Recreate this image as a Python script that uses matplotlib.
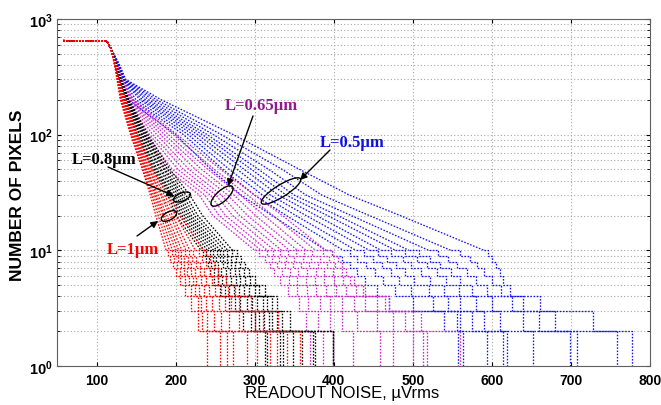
import matplotlib
matplotlib.use("Agg")
import matplotlib.pyplot as plt
from matplotlib.patches import Ellipse
from matplotlib.transforms import IdentityTransform

plt.rcParams['mathtext.fontset'] = 'custom'
plt.rcParams['mathtext.bf'] = 'Liberation Sans:bold'
plt.rcParams['mathtext.rm'] = 'Liberation Sans'

# ---------------- data ----------------
# common start of every curve (plateau and knee)
head_x = [58, 113, 118]
head_counts = [650, 645, 560]
# count levels reached at each x listed in the tables
mid_levels = [400, 300, 200, 100, 50, 30, 20, 10]
tail_levels = [10, 9, 8, 7, 6, 5, 4, 3, 2, 1]

# columns: x@400, x@300, x@200, x@100, x@50, x@30, x@20, x@10,
#          x@9, x@8, x@7, x@6, x@5, x@4, x@3, x@2, x@1
red_L1um = [
    [123, 126, 130, 143, 158, 168, 175, 188, 190, 193, 197, 200, 205, 212, 220, 228, 240],
    [123, 126, 131, 144, 159, 170, 178, 192, 195, 198, 202, 206, 212, 219, 228, 233, 256],
    [123, 127, 131, 145, 161, 172, 181, 196, 199, 203, 207, 211, 217, 225, 232, 240, 273],
    [123, 127, 132, 146, 162, 174, 184, 200, 203, 207, 211, 215, 222, 230, 238, 248, 265],
    [124, 127, 133, 147, 163, 176, 186, 204, 207, 211, 216, 220, 226, 236, 246, 258, 290],
    [124, 127, 133, 148, 164, 178, 189, 208, 212, 216, 220, 225, 232, 242, 255, 268, 303],
    [124, 128, 134, 149, 166, 181, 193, 213, 217, 221, 226, 231, 239, 250, 262, 280, 328],
    [124, 128, 135, 150, 167, 183, 196, 218, 222, 226, 231, 236, 246, 258, 270, 300, 341],
    [124, 128, 136, 151, 169, 186, 200, 225, 229, 233, 238, 244, 254, 266, 280, 310, 320],
    [124, 129, 137, 152, 171, 190, 206, 235, 239, 243, 248, 254, 264, 275, 295, 330, 357],
]
black_L08um = [
    [124, 128, 134, 151, 171, 190, 201, 232, 235, 238, 241, 244, 248, 256, 268, 285, 313],
    [124, 128, 135, 152, 173, 193, 205, 236, 239, 242, 245, 249, 254, 262, 275, 295, 316],
    [124, 129, 136, 154, 175, 195, 208, 240, 243, 247, 250, 254, 259, 268, 282, 300, 332],
    [124, 129, 136, 155, 177, 197, 211, 244, 247, 251, 254, 258, 264, 274, 290, 305, 336],
    [125, 129, 137, 157, 180, 200, 214, 248, 252, 256, 260, 264, 270, 280, 297, 312, 349],
    [125, 130, 138, 158, 182, 203, 217, 252, 256, 260, 265, 269, 276, 287, 303, 318, 374],
    [125, 130, 138, 160, 185, 206, 220, 256, 260, 265, 270, 275, 282, 293, 310, 322, 376],
    [125, 130, 139, 161, 187, 209, 224, 261, 265, 270, 275, 280, 288, 300, 316, 328, 399],
    [125, 131, 140, 163, 190, 213, 228, 266, 271, 276, 281, 286, 294, 306, 322, 335, 360],
    [125, 131, 141, 165, 193, 218, 234, 272, 278, 283, 288, 293, 300, 313, 328, 345, 399],
]
magenta_L065um = [
    [125, 129, 138, 160, 190, 230, 247, 300, 306, 313, 319, 325, 332, 342, 356, 365, 370],
    [125, 129, 139, 163, 196, 237, 255, 308, 315, 322, 328, 335, 343, 354, 368, 380, 386],
    [125, 130, 140, 167, 203, 244, 263, 316, 323, 331, 338, 345, 354, 366, 382, 395, 399],
    [125, 130, 141, 171, 210, 251, 272, 325, 332, 340, 348, 355, 365, 378, 395, 410, 424],
    [126, 130, 142, 176, 217, 258, 281, 334, 342, 350, 358, 366, 376, 390, 410, 430, 458],
    [126, 131, 143, 181, 225, 266, 291, 344, 352, 361, 369, 377, 388, 403, 425, 455, 475],
    [126, 131, 144, 186, 233, 274, 301, 354, 362, 371, 380, 388, 400, 416, 440, 475, 500],
    [126, 131, 145, 191, 241, 282, 312, 365, 373, 382, 391, 399, 412, 428, 455, 490, 513],
    [126, 132, 146, 197, 249, 291, 323, 377, 386, 394, 402, 410, 420, 437, 465, 500, 518],
    [126, 132, 147, 202, 257, 300, 335, 390, 398, 405, 410, 415, 425, 440, 470, 510, 560],
]
blue_L05um = [
    [126, 131, 140, 200, 245, 283, 322, 390, 398, 410, 420, 430, 440, 455, 470, 540, 557],
    [126, 132, 146, 210, 260, 300, 340, 412, 420, 430, 441, 452, 462, 478, 500, 556, 563],
    [127, 133, 150, 216, 268, 310, 352, 428, 438, 450, 461, 472, 482, 498, 525, 560, 594],
    [127, 133, 155, 222, 278, 320, 365, 445, 456, 468, 479, 490, 502, 520, 545, 575, 614],
    [127, 134, 158, 228, 287, 330, 378, 460, 472, 487, 498, 510, 522, 540, 560, 590, 619],
    [128, 134, 162, 234, 296, 340, 392, 478, 490, 505, 518, 530, 542, 558, 580, 610, 652],
    [128, 135, 166, 240, 305, 350, 405, 495, 508, 522, 535, 548, 560, 575, 600, 640, 699],
    [128, 135, 171, 248, 318, 365, 422, 520, 532, 545, 556, 568, 580, 594, 625, 660, 708],
    [129, 136, 176, 258, 335, 385, 445, 548, 560, 572, 581, 590, 600, 612, 640, 680, 758],
    [129, 137, 182, 273, 357, 420, 484, 590, 595, 600, 605, 610, 614, 623, 661, 728, 777],
]

x_ticks = [100, 200, 300, 400, 500, 600, 700, 800]
y_ticks = [1, 10, 100, 1000]
y_tick_labels = [r'$\mathbf{10^{0}}$', r'$\mathbf{10^{1}}$', r'$\mathbf{10^{2}}$', r'$\mathbf{10^{3}}$']

families = [
    (blue_L05um, '#1414f0'),
    (magenta_L065um, '#c828c8'),
    (black_L08um, '#000000'),
    (red_L1um, '#ff0000'),
]

# ---------------- figure ----------------
W, H = 661, 406
fig = plt.figure(figsize=(W / 100, H / 100), dpi=100)
ax = fig.add_axes([57 / W, (H - 367) / H, (650 - 57) / W, (367 - 20) / H])
ax.set_yscale('log')
ax.set_xlim(50, 800)
ax.set_ylim(1, 1000)

ls = (0, (1.2, 1.2))
n_mid = len(mid_levels)
for table, col in families:
    for row in table:
        mid_x = row[:n_mid]
        tail_x = row[n_mid - 1:]
        ax.plot(head_x + mid_x, head_counts + mid_levels,
                color=col, lw=0.95, ls=ls)
        ax.step(tail_x, tail_levels, where='post', color=col, lw=0.95, ls=ls)

ax.set_xticks(x_ticks)
ax.set_xticklabels([str(t) for t in x_ticks], fontfamily='Liberation Sans',
                   fontweight='bold', fontsize=10)
ax.set_yticks(y_ticks)
ax.set_yticklabels(y_tick_labels, fontsize=10.5)
ax.tick_params(which='both', direction='in', top=True, right=True, length=3)
ax.tick_params(which='minor', length=2)
ax.tick_params(axis='x', pad=5)
ax.tick_params(axis='y', pad=3)
ax.grid(True, which='major', color='#a8a8a8', ls=(0, (1, 2)), lw=0.8)
ax.grid(True, which='minor', axis='y', color='#a8a8a8', ls=(0, (1, 2)), lw=0.8)
for sp in ax.spines.values():
    sp.set_color('#606060')
    sp.set_linewidth(0.8)

ax.set_xlabel('READOUT NOISE, µVrms', fontfamily='Liberation Sans', fontsize=12)
ax.xaxis.set_label_coords((342 - 57) / 593, (367 - 394) / 347)
ax.xaxis.label.set_va('center')
ax.set_ylabel('NUMBER OF PIXELS', fontfamily='Liberation Sans',
              fontweight='bold', fontsize=12.5)
ax.yaxis.set_label_coords((18 - 57) / 593, (367 - 195) / 347)
ax.yaxis.label.set_va('center')

# ---------------- annotations (pixel positions from top-left) ----------------
def disp(px, py):
    return (px, H - py)

inv = ax.transData.inverted()

def data_of(px, py):
    return tuple(inv.transform(disp(px, py)))

tfont = dict(fontfamily='Liberation Serif', fontweight='bold', fontsize=12)
ax.text(*data_of(261, 106), 'L=0.65µm', color='#901890', ha='center', va='center', **tfont)
ax.text(*data_of(352, 143), 'L=0.5µm', color='#1010e0', ha='center', va='center', **tfont)
ax.text(*data_of(104, 160), 'L=0.8µm', color='#000000', ha='center', va='center', **tfont)
ax.text(*data_of(133, 250), 'L=1µm', color='#ff0000', ha='center', va='center', **tfont)

arrows = [
    ((253, 117), (228, 187)),
    ((330, 151), (300, 181)),
    ((108, 168), (174, 197)),
    ((137, 237), (158, 222)),
]
for (sx, sy), (ex, ey) in arrows:
    ax.annotate('', xy=data_of(ex, ey), xytext=data_of(sx, sy),
                arrowprops=dict(arrowstyle='-|>', color='black', lw=1.0,
                                mutation_scale=10, shrinkA=0, shrinkB=0))

ellipses = [
    ((169, 217), 17, 8, 28),
    ((182, 198), 18, 8, 22),
    ((222, 197), 28, 11, 42),
    ((281, 192), 46, 12, 32),
]
for (cx, cy), w, h, ang in ellipses:
    e = Ellipse(disp(cx, cy), w, h, angle=ang, fill=False, edgecolor='black',
                lw=1.0, transform=IdentityTransform(), zorder=5)
    fig.add_artist(e)

fig.savefig('out.png', dpi=100)
